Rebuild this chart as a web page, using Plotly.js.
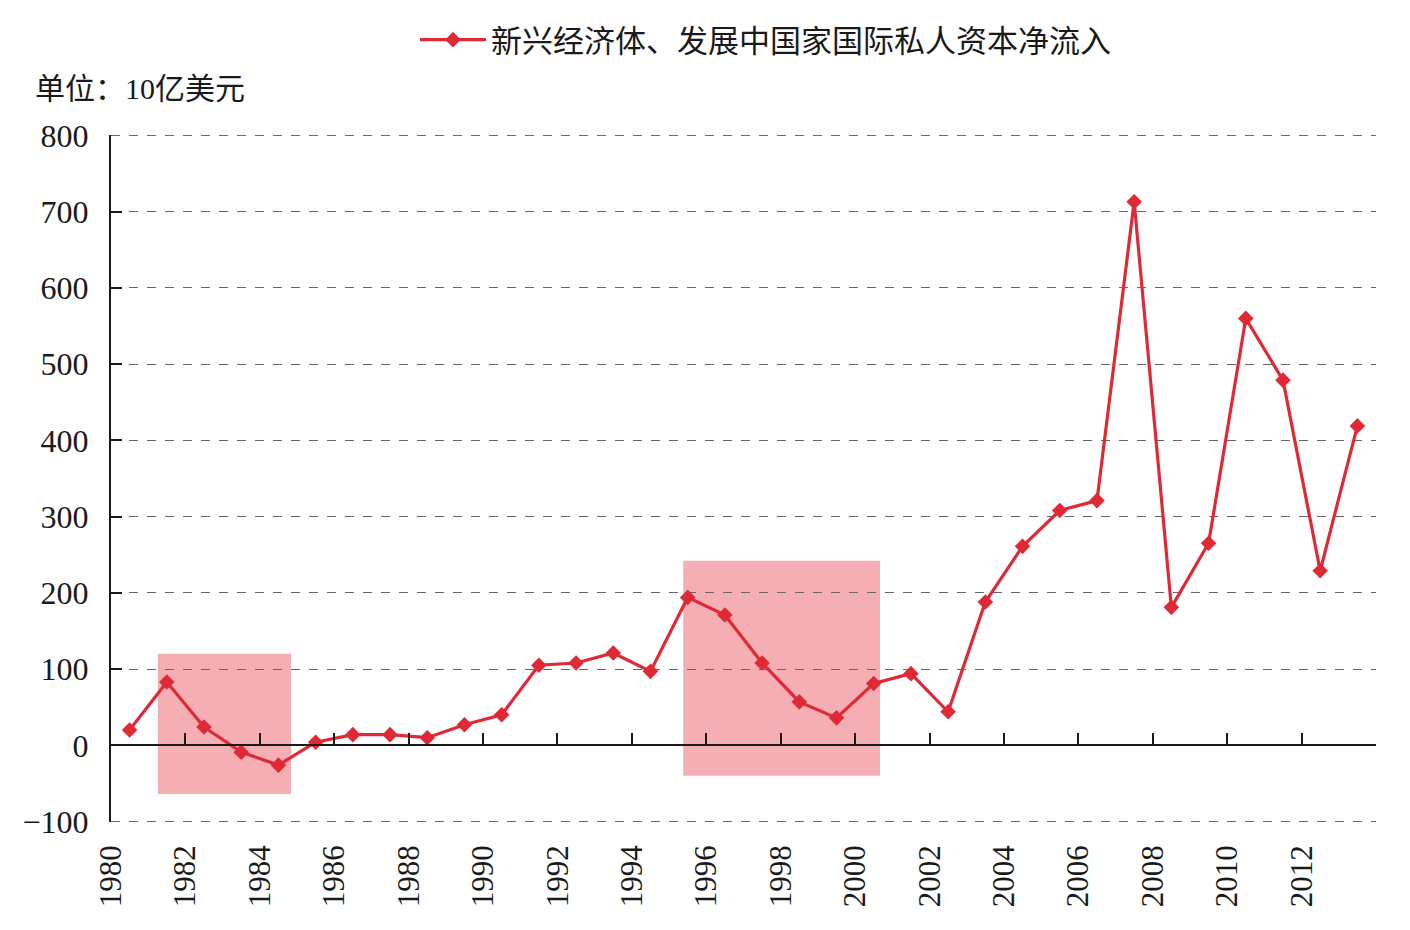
<!DOCTYPE html>
<html><head><meta charset="utf-8">
<script src="https://cdn.plot.ly/plotly-3.0.1.min.js"></script>
<style>html,body{margin:0;padding:0;background:#fff}#chart{width:1410px;height:930px}</style>
</head><body><div id="chart"></div>
<script>
const years = [1980,1981,1982,1983,1984,1985,1986,1987,1988,1989,1990,1991,1992,1993,1994,1995,1996,1997,1998,1999,2000,2001,2002,2003,2004,2005,2006,2007,2008,2009,2010,2011,2012,2013];
const netInflow = [20,83,24,-9,-26,4,14,14,10,27,40,105,108,121,97,194,171,108,57,36,81,94,44,188,261,308,321,713,181,265,560,479,229,419];
const seriesName = '新兴经济体、发展中国家国际私人资本净流入';
const unitLabel = '单位：10亿美元';
const tickYears = [1980,1982,1984,1986,1988,1990,1992,1994,1996,1998,2000,2002,2004,2006,2008,2010,2012,2014];
const tickLabels = ['1980','1982','1984','1986','1988','1990','1992','1994','1996','1998','2000','2002','2004','2006','2008','2010','2012',''];
const shadeX = [[1981.26,1984.84],[1995.38,2000.67]];
const shadeY = [[-64,120],[-40,242]];

const serif = 'Liberation Serif, Noto Sans CJK SC, serif';
const xr = [1980, 2014];
const yr = [-100.6, 800.6];
const edgeGrid = [-100, 800];

const trace = {
  x: years.map(y => y + 0.5), y: netInflow, name: seriesName,
  type: 'scatter', mode: 'lines+markers',
  line: {color: '#DF2A36', width: 3.2},
  marker: {symbol: 'diamond', size: 12, color: '#DF2A36'}
};
const dummy = {x: [xr[0]], y: [0], xaxis: 'x2', yaxis: 'y', mode: 'markers', marker: {opacity: 0}, showlegend: false, hoverinfo: 'skip'};

const shapes = shadeX.map((sx, i) => ({
  type: 'rect', xref: 'x', yref: 'y', x0: sx[0], x1: sx[1], y0: shadeY[i][0], y1: shadeY[i][1],
  fillcolor: 'rgba(240,120,132,0.6)', line: {width: 0}, layer: 'below'
})).concat(edgeGrid.map(v => ({
  type: 'line', xref: 'paper', yref: 'y', x0: 0, x1: 1, y0: v, y1: v,
  line: {color: '#666', width: 1, dash: 'dash'}, layer: 'below'
})));

const layout = {
  width: 1410, height: 930,
  margin: {l: 111, r: 34, t: 135, b: 108},
  paper_bgcolor: '#fff', plot_bgcolor: '#fff',
  font: {family: serif, color: '#1a1a1a'},
  showlegend: true,
  legend: {orientation: 'h', x: 0.5 + 22 / 1265, xanchor: 'center', xref: 'paper', y: 1 - 40 / 930, yref: 'container', yanchor: 'middle',
    font: {family: serif, size: 31, color: '#1a1a1a'}, itemwidth: 66},
  xaxis: {
    range: xr, showline: false, showgrid: false, zeroline: false,
    tickmode: 'array', tickvals: tickYears, ticktext: tickLabels, tickangle: -90, ticks: '',
    tickfont: {family: serif, size: 31, color: '#1a1a1a'}, ticklabelstandoff: 16
  },
  xaxis2: {
    range: xr, overlaying: 'x', anchor: 'free', position: (0 - yr[0]) / (yr[1] - yr[0]), side: 'bottom',
    showline: true, linecolor: '#1a1a1a', linewidth: 2, showgrid: false, zeroline: false,
    tickmode: 'array', tickvals: tickYears.slice(1), ticks: 'inside', ticklen: 11, tickwidth: 2, tickcolor: '#1a1a1a',
    showticklabels: false
  },
  yaxis: {
    range: yr, tickmode: 'linear', tick0: -100, dtick: 100,
    showline: true, linecolor: '#1a1a1a', linewidth: 2, ticks: 'inside', ticklen: 11, tickwidth: 2, tickcolor: '#1a1a1a',
    showgrid: true, gridcolor: '#666', griddash: 'dash', gridwidth: 1, zeroline: false,
    tickfont: {family: serif, size: 32, color: '#1a1a1a'}, ticklabelstandoff: 14
  },
  shapes: shapes,
  annotations: [{text: unitLabel, xref: 'paper', yref: 'paper', x: -0.0617, y: (822 - 88) / 687, xanchor: 'left', yanchor: 'middle',
    showarrow: false, font: {family: serif, size: 30, color: '#1a1a1a'}}]
};
Plotly.newPlot('chart', [trace, dummy], layout, {displayModeBar: false});
</script></body></html>
